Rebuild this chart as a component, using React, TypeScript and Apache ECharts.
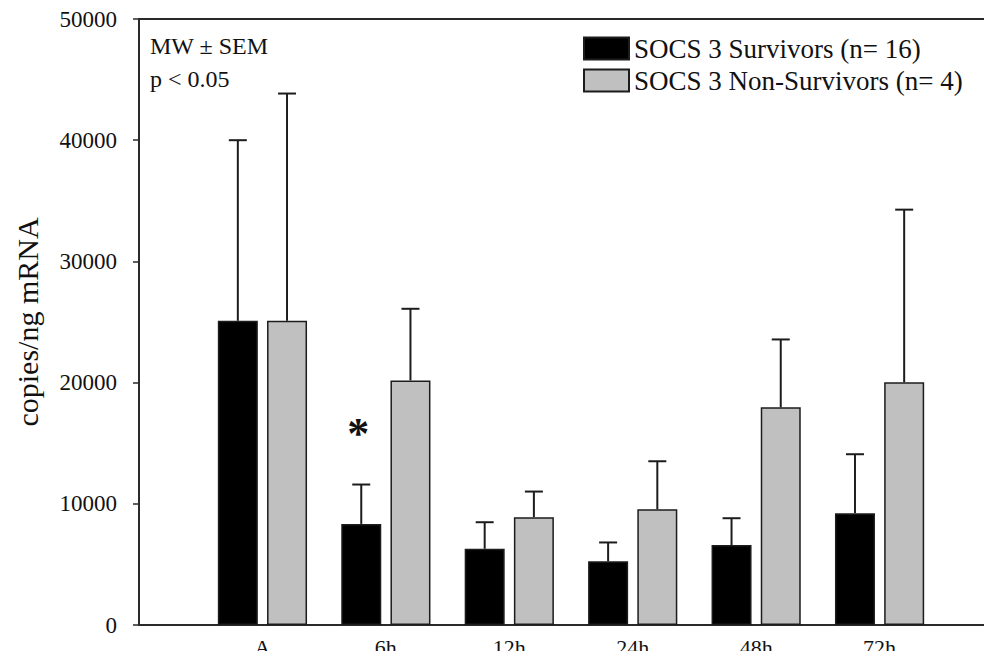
import React, { useEffect, useRef } from "react";
import * as echarts from "echarts";

// Sampling times and group means / standard errors (copies per ng mRNA)
const categories = ["A", "6h", "12h", "24h", "48h", "72h"];
const survivors = [25100, 8340, 6290, 5250, 6600, 9230];
const survivorsSem = [14900, 3250, 2190, 1560, 2210, 4860];
const nonSurvivors = [25100, 20180, 8900, 9550, 17960, 20020];
const nonSurvivorsSem = [18750, 5910, 2110, 3960, 5600, 14250];
const survivorsSig = ["", "*", "", "", "", ""];
const yTicks = [0, 10000, 20000, 30000, 40000, 50000];

const survivorsName = "SOCS 3 Survivors (n= 16)";
const nonSurvivorsName = "SOCS 3 Non-Survivors (n= 4)";

// Padded so the first group sits one step right of the y axis
const axisCategories = ["", ...categories, ""];

const SERIF = "'Liberation Serif', 'Times New Roman', serif";
const INK = "#1c1c1c";
const BAR_WIDTH = 40;
const BAR_GAP = "23%";

export default function App() {
  const ref = useRef<HTMLDivElement>(null);

  useEffect(() => {
    if (!ref.current) return;
    const chart = echarts.init(ref.current, null, { renderer: "svg" });

    const errorData = [
      ...categories.map((c, i) => [c, survivors[i], survivorsSem[i], 0, survivorsSig[i]]),
      ...categories.map((c, i) => [c, nonSurvivors[i], nonSurvivorsSem[i], 1, ""]),
    ];

    chart.setOption({
      animation: false,
      backgroundColor: "#ffffff",
      grid: {
        left: 139,
        right: -11,
        top: 19,
        bottom: 34,
        show: true,
        borderColor: "#2a2a2a",
        borderWidth: 2,
        outerBoundsMode: "none",
      },
      legend: {
        orient: "vertical",
        left: 583,
        top: 35,
        padding: 0,
        itemWidth: 45,
        itemHeight: 22,
        itemGap: 5,
        icon: "rect",
        selectedMode: false,
        data: [survivorsName, nonSurvivorsName],
        textStyle: { fontFamily: SERIF, fontSize: 27, color: "#111", padding: [0, 0, 0, 0] },
      },
      graphic: [
        {
          type: "text",
          left: 150,
          top: 34,
          style: { text: "MW ± SEM", font: `24px ${SERIF}`, fill: "#111" },
        },
        {
          type: "text",
          left: 150,
          top: 67,
          style: { text: "p < 0.05", font: `24px ${SERIF}`, fill: "#111" },
        },
      ],
      xAxis: {
        type: "category",
        data: axisCategories,
        boundaryGap: false,
        axisLine: { show: true, lineStyle: { color: "#2a2a2a", width: 2 } },
        axisTick: { show: false },
        splitLine: { show: false },
        axisLabel: {
          interval: 0,
          margin: 11,
          fontFamily: SERIF,
          fontSize: 22,
          lineHeight: 22,
          color: "#111",
        },
      },
      yAxis: {
        type: "value",
        min: yTicks[0],
        max: yTicks[yTicks.length - 1],
        interval: yTicks[1] - yTicks[0],
        name: "copies/ng mRNA",
        nameLocation: "middle",
        nameGap: 97,
        nameRotate: 90,
        nameTextStyle: { fontFamily: SERIF, fontSize: 30, color: "#111" },
        axisLine: { show: true, lineStyle: { color: "#2a2a2a", width: 2 } },
        axisTick: { show: true, inside: false, length: 6, lineStyle: { color: "#2a2a2a", width: 1.5 } },
        splitLine: { show: false },
        axisLabel: {
          margin: 22,
          fontFamily: SERIF,
          fontSize: 23,
          color: "#111",
          formatter: (v: number) => String(v),
        },
      },
      series: [
        {
          name: survivorsName,
          type: "bar",
          barWidth: BAR_WIDTH,
          barGap: BAR_GAP,
          data: categories.map((c, i) => [c, survivors[i]]),
          itemStyle: { color: "#000000", borderColor: INK, borderWidth: 1.5 },
        },
        {
          name: nonSurvivorsName,
          type: "bar",
          barWidth: BAR_WIDTH,
          barGap: BAR_GAP,
          data: categories.map((c, i) => [c, nonSurvivors[i]]),
          itemStyle: { color: "#c0c0c0", borderColor: INK, borderWidth: 1.5 },
        },
        {
          // Upper SEM whiskers and significance marks
          type: "custom",
          z: 5,
          silent: true,
          encode: { x: 0, y: 1 },
          data: errorData,
          renderItem: (params: any, api: any) => {
            const x = api.value(0);
            const mean = api.value(1);
            const sem = api.value(2);
            const group = api.value(3);
            const sig = api.value(4);
            const base = api.coord([x, mean]);
            const top = api.coord([x, mean + sem]);
            let offset = group === 0 ? -24.6 : 24.6;
            if (api.barLayout) {
              const layout = api.barLayout({ count: 2, barWidth: BAR_WIDTH, barGap: BAR_GAP });
              if (layout && layout[group]) offset = layout[group].offsetCenter;
            }
            const cx = base[0] + offset;
            const cap = 9;
            const stroke = { stroke: INK, lineWidth: 2 };
            const children: any[] = [
              { type: "line", shape: { x1: cx, y1: base[1], x2: cx, y2: top[1] }, style: stroke },
              { type: "line", shape: { x1: cx - cap, y1: top[1], x2: cx + cap, y2: top[1] }, style: stroke },
            ];
            if (sig) {
              children.push({
                type: "text",
                x: cx - 3,
                y: top[1] - 51,
                style: {
                  text: sig,
                  font: `bold 44px ${SERIF}`,
                  fill: "#111",
                  align: "center",
                  verticalAlign: "middle",
                },
              });
            }
            return { type: "group", children };
          },
        },
      ],
    });

    return () => chart.dispose();
  }, []);

  return <div ref={ref} style={{ width: 992, height: 659, margin: -8 }} />;
}
